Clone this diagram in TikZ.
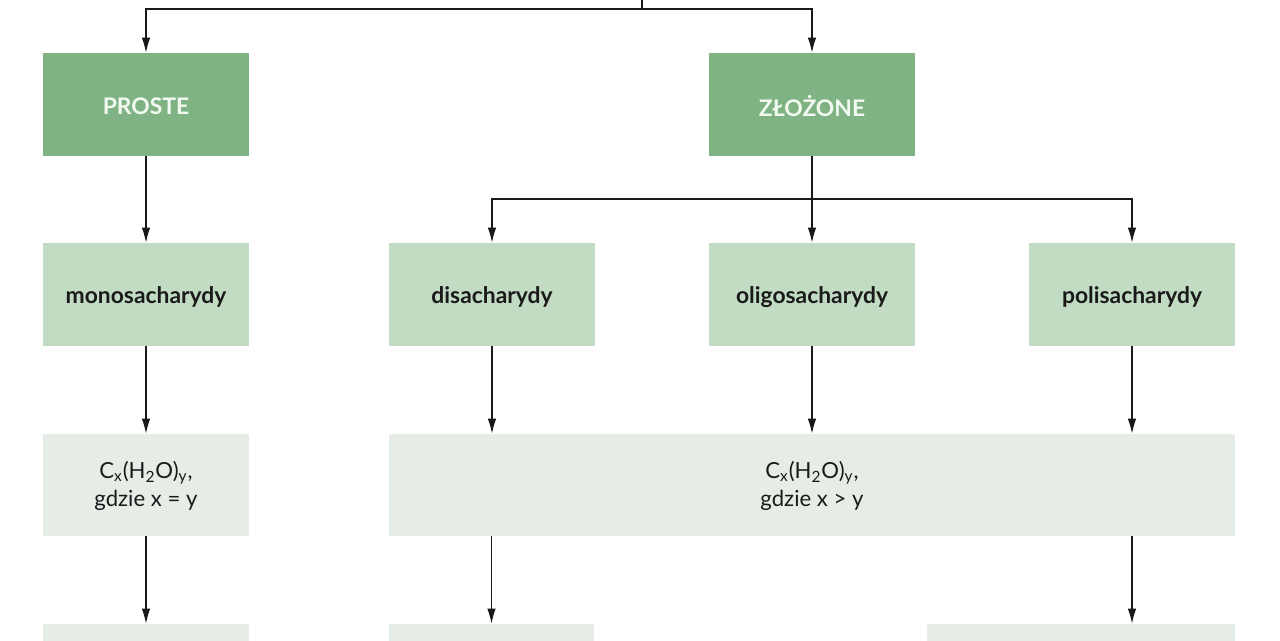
\documentclass[tikz,border=0pt]{standalone}
\usepackage{fontspec}
\setmainfont{Lato}
\usetikzlibrary{arrows.meta}
\definecolor{gdark}{HTML}{80B383}
\definecolor{gmid}{HTML}{C2DCC4}
\definecolor{glight}{HTML}{E6EDE7}
\definecolor{tlight}{HTML}{F2F9F0}
\definecolor{tdark}{HTML}{1A1A1A}
\tikzset{
  box/.style={rectangle, inner sep=0pt, minimum width=4.12cm, minimum height=2.06cm, align=center},
  lvlone/.style={box, fill=gdark, text=tlight, font=\fontsize{13}{16}\selectfont\bfseries},
  lvltwo/.style={box, fill=gmid, text=tdark, font=\fontsize{13}{16}\selectfont\bfseries},
  lvlthree/.style={box, fill=glight, text=tdark, minimum height=2.04cm, font=\fontsize{12.6}{16}\selectfont},
  conn/.style={line width=0.7pt, draw=black!90},
  arr/.style={conn, -{Latex[length=0.3cm, width=0.17cm]}}
}
\begin{document}
\begin{tikzpicture}[x=0.02cm, y=-0.02cm]
\useasboundingbox (0,0) rectangle (1280,640);
\clip (0,0) rectangle (1280,640);
\node[lvlone] (proste) at (146,104.5) {};
\node[lvlone] (zlozone) at (812,104.5) {};
\node[lvltwo] (mono) at (146,294.5) {};
\node[lvltwo] (di) at (492,294.5) {};
\node[lvltwo] (oligo) at (812,294.5) {};
\node[lvltwo] (poli) at (1132,294.5) {};
\node[lvlthree] (wa) at (146,485) {};
\node[lvlthree, minimum width=16.92cm] (wb) at (812,485) {};
\node[lvlthree] (ba) at (146,675) {};
\node[lvlthree] (bb) at (491.5,675) {};
\node[lvlthree, minimum width=6.16cm] (bc) at (1081,675) {};
\node[text=tlight, font=\fontsize{13}{16}\selectfont\bfseries] (tproste) at (146,106) {PROSTE};
\node[text=tlight, font=\fontsize{13}{16}\selectfont\bfseries] (tzlozone) at (812,106) {ZŁOŻONE};
\node[text=tdark, font=\fontsize{13}{16}\selectfont\bfseries] (tmono) at (146,297) {monosacharydy};
\node[text=tdark, font=\fontsize{13}{16}\selectfont\bfseries] (tdi) at (492,297) {disacharydy};
\node[text=tdark, font=\fontsize{13}{16}\selectfont\bfseries] (toligo) at (812,297) {oligosacharydy};
\node[text=tdark, font=\fontsize{13}{16}\selectfont\bfseries] (tpoli) at (1132,297) {polisacharydy};
\node[text=tdark, align=center, font=\fontsize{12.6}{16}\selectfont] (twa) at (146,486) {C\textsubscript{x}(H\textsubscript{2}O)\textsubscript{y},\\gdzie x = y};
\node[text=tdark, align=center, font=\fontsize{12.6}{16}\selectfont] (twb) at (812,486) {C\textsubscript{x}(H\textsubscript{2}O)\textsubscript{y},\\gdzie x > y};
\coordinate (top) at (642,-2);
\coordinate (j1) at (642,9);
\coordinate (j2) at (812,199);
\draw[conn] (top) -- (j1);
\draw[arr] (j1) -| (proste.north);
\draw[arr] (j1) -| (zlozone.north);
\draw[arr] (proste.south) -- (mono.north);
\draw[arr] (zlozone.south) -- (oligo.north);
\draw[arr] (j2) -| (di.north);
\draw[arr] (j2) -| (poli.north);
\draw[arr] (mono.south) -- (wa.north);
\draw[arr] (di.south) -- (di.south |- wb.north);
\draw[arr] (oligo.south) -- (oligo.south |- wb.north);
\draw[arr] (poli.south) -- (poli.south |- wb.north);
\draw[arr] (wa.south) -- (ba.north);
\draw[arr] (wb.south -| bb.north) -- (bb.north);
\draw[arr] (wb.south -| poli.south) -- (bc.north -| poli.south);
\end{tikzpicture}
\end{document}
